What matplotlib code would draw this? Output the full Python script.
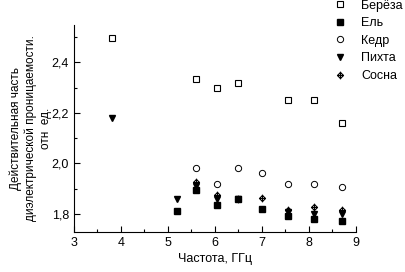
import matplotlib
matplotlib.use("Agg")
import matplotlib.pyplot as plt
from matplotlib.path import Path
from matplotlib.ticker import MultipleLocator, FuncFormatter

plt.rcParams['font.family'] = ['Liberation Sans', 'DejaVu Sans']

# Data
bereza_x = [3.8, 5.6, 6.05, 6.5, 7.55, 8.1, 8.7]
bereza_y = [2.495, 2.333, 2.297, 2.32, 2.25, 2.25, 2.16]

el_x = [5.2, 5.6, 6.05, 6.5, 7.0, 7.55, 8.1, 8.7]
el_y = [1.81, 1.895, 1.835, 1.857, 1.82, 1.79, 1.78, 1.77]

kedr_x = [5.6, 6.05, 6.5, 7.0, 7.55, 8.1, 8.7]
kedr_y = [1.98, 1.92, 1.98, 1.96, 1.92, 1.917, 1.905]

pihta_x = [3.8, 5.2, 5.6, 6.05, 6.5, 7.55, 8.1, 8.7]
pihta_y = [2.18, 1.86, 1.91, 1.86, 1.86, 1.806, 1.80, 1.80]

sosna_x = [5.6, 6.05, 6.5, 7.0, 7.55, 8.1, 8.7]
sosna_y = [1.925, 1.875, 1.86, 1.862, 1.815, 1.826, 1.815]

labels = ['Берёза', 'Ель', 'Кедр', 'Пихта', 'Сосна']

# custom marker: diamond with cross
verts = [(0, 1), (1, 0), (0, -1), (-1, 0), (0, 1),
         (0, -1.25), (0, 1.25), (-1, 0), (1, 0)]
codes = [Path.MOVETO, Path.LINETO, Path.LINETO, Path.LINETO, Path.CLOSEPOLY,
         Path.MOVETO, Path.LINETO, Path.MOVETO, Path.LINETO]
cross_diamond = Path(verts, codes)

fig = plt.figure(figsize=(4.06, 2.72), dpi=100)
ax = fig.add_axes([74/406, 1-232/272, (356-74)/406, (232-25)/272])

ms = 4.2
ax.plot(bereza_x, bereza_y, linestyle='none', marker='s', ms=ms, mfc='white', mec='black', mew=0.8, label=labels[0])
ax.plot(el_x, el_y, linestyle='none', marker='s', ms=ms, mfc='black', mec='black', label=labels[1])
ax.plot(kedr_x, kedr_y, linestyle='none', marker='o', ms=ms+0.3, mfc='none', mec='black', mew=0.7, label=labels[2])
ax.plot(pihta_x, pihta_y, linestyle='none', marker='v', ms=ms+0.5, mfc='black', mec='black', label=labels[3])
ax.plot(sosna_x, sosna_y, linestyle='none', marker=cross_diamond, ms=ms+1.3, mfc='none', mec='black', mew=0.8, label=labels[4])

ax.set_xlim(3, 9)
ax.set_ylim(1.728, 2.548)
ax.xaxis.set_major_locator(MultipleLocator(1))
ax.xaxis.set_minor_locator(MultipleLocator(0.5))
ax.yaxis.set_major_locator(MultipleLocator(0.2))
ax.yaxis.set_minor_locator(MultipleLocator(0.1))
ax.yaxis.set_major_formatter(FuncFormatter(lambda v, p: f"{v:.1f}".replace('.', ',')))
ax.tick_params(which='both', direction='in', labelsize=9, width=0.8)
ax.tick_params(which='major', length=4)
ax.tick_params(which='minor', length=2)
for s in ['top', 'right']:
    ax.spines[s].set_visible(False)

ax.set_xlabel('Частота, ГГц', fontsize=9, labelpad=3)
ax.set_ylabel('Действительная часть\nдиэлектрической проницаемости.\nотн  ед.', fontsize=8.5, labelpad=0, linespacing=1.3)

fig.legend(loc='upper left', bbox_to_anchor=(0.81, 1.02), frameon=False, fontsize=9,
           handlelength=1.0, handletextpad=1.2, labelspacing=0.45, borderaxespad=0)

fig.savefig('out.png', dpi=100)
